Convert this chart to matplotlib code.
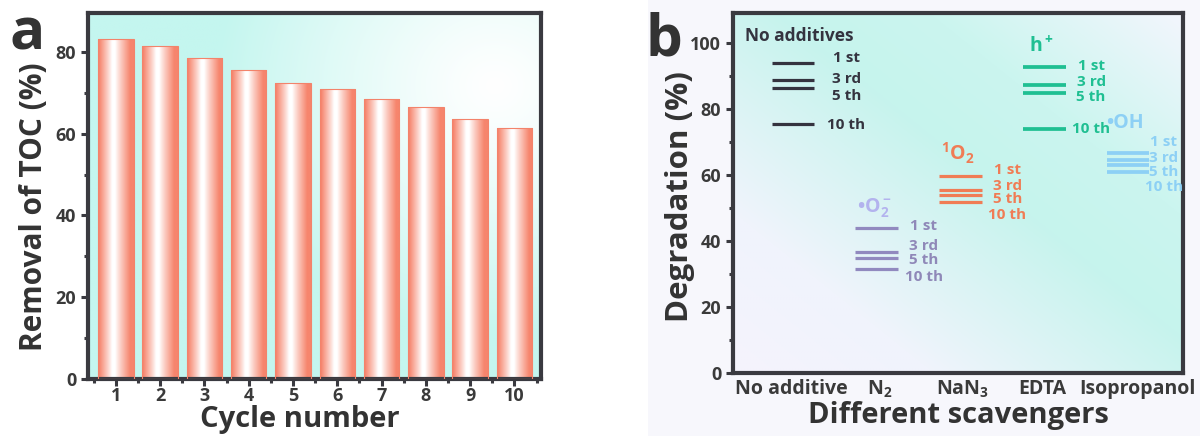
import matplotlib.pyplot as plt
import numpy as np
from matplotlib.colors import LinearSegmentedColormap, to_rgb
from matplotlib.patches import Rectangle

plt.rcParams["font.family"] = ["Open Sans", "DejaVu Sans"]
plt.rcParams["font.weight"] = "bold"
plt.rcParams["mathtext.fontset"] = "custom"
plt.rcParams["mathtext.rm"] = "Open Sans:bold"
plt.rcParams["mathtext.it"] = "Open Sans:bold"
plt.rcParams["mathtext.bf"] = "Open Sans:bold"

# ---- panel a data
cycles = [1, 2, 3, 4, 5, 6, 7, 8, 9, 10]
toc_removal = [83.1, 81.5, 78.5, 75.5, 72.5, 70.8, 68.5, 66.4, 63.5, 61.5]

# ---- panel b data
scavengers = ["No additive", "N$_2$", "NaN$_3$", "EDTA", "Isopropanol"]
species = ["No additives", "•O$_2^-$", "$^1$O$_2$", "h$^+$", "•OH"]
run_labels = ["1 st", "3 rd", "5 th", "10 th"]
deg_no_additive = [93.9, 88.7, 86.3, 75.3]
deg_n2 = [43.8, 36.7, 34.9, 31.6]
deg_nan3 = [59.7, 55.5, 54.0, 51.8]
deg_edta = [92.7, 87.1, 84.7, 74.0]
deg_ipa = [66.7, 64.6, 63.0, 60.8]
degradation = [deg_no_additive, deg_n2, deg_nan3, deg_edta, deg_ipa]

# where the run labels sit (y, in %)
lab_no_additive = [95.3, 89.0, 84.0, 75.2]
lab_n2 = [44.5, 38.4, 34.3, 29.2]
lab_nan3 = [61.5, 56.5, 52.7, 47.9]
lab_edta = [93.0, 88.0, 83.5, 74.0]
lab_ipa = [70.0, 65.2, 60.9, 56.3]
label_y = [lab_no_additive, lab_n2, lab_nan3, lab_edta, lab_ipa]
species_y = [102.0, 50.0, 66.5, 98.8, 75.7]

line_colors = ["#34333f", "#9189bf", "#f07c55", "#1fbf92", "#8dd0f5"]
text_colors = ["#34333f", "#8f88b8", "#f07c55", "#1fbf92", "#8dd0f5"]
species_colors = ["#34333f", "#b3b3ee", "#f07c55", "#1fbf92", "#8dd0f5"]
# small shifts of the category names relative to the line groups
name_shift = [-0.02, 0.03, 0.02, -0.02, 0.11]

SPINE = "#3a3a40"
TICK_TXT = "#3a3a3a"
LABEL_TXT = "#333333"


def style_axes(ax):
    for s in ax.spines.values():
        s.set_linewidth(3)
        s.set_color(SPINE)
    ax.tick_params(which="both", direction="out", color=SPINE, width=2.2,
                   labelcolor=TICK_TXT, labelsize=13)
    ax.tick_params(which="major", length=5)
    ax.tick_params(which="minor", length=3)


fig = plt.figure(figsize=(12, 4.36), dpi=100)
fig.patches.append(Rectangle((0.54, 0), 0.46, 1, transform=fig.transFigure,
                             facecolor="#f7f7fc", edgecolor="none", zorder=-10))

# ================= panel a =================
ax1 = fig.add_axes([0.0733, 0.1307, 0.3775, 0.8395])
ax1.set_xlim(0.37, 10.6)
ax1.set_ylim(0, 89.5)

# background: cyan with a pale spot upper right
gx, gy = np.meshgrid(np.linspace(0, 1, 300), np.linspace(0, 1, 300))
d = np.sqrt((gx - 0.9) ** 2 + ((gy - 0.8) * 0.9) ** 2)
w = np.clip(d / 0.62, 0, 1) ** 1.2
cyan = np.array(to_rgb("#c4f6ef"))
white = np.array([1.0, 1.0, 1.0])
bg = white[None, None, :] * (1 - w[..., None]) + cyan[None, None, :] * w[..., None]
ax1.imshow(bg, extent=[0, 1, 0, 1], transform=ax1.transAxes, origin="lower",
           aspect="auto", zorder=0)

bars = ax1.bar(cycles, toc_removal, width=0.8, color="none",
               edgecolor="#f3836b", linewidth=0.8, zorder=3)
t = np.linspace(0, 1, 120)
wt = np.where(t < 0.39, (0.39 - t) / 0.36, (t - 0.48) / 0.42)
wt = np.clip(wt, 0, 1) ** 0.9
salmon = np.array(to_rgb("#f6856d"))
strip = white[None, :] * (1 - wt[:, None]) + salmon[None, :] * wt[:, None]
strip = strip[None, :, :]
for b in bars:
    x0, y0 = b.get_x(), b.get_y()
    im = ax1.imshow(strip, extent=[x0, x0 + b.get_width(), y0, y0 + b.get_height()],
                    aspect="auto", origin="lower", zorder=2)
    im.set_clip_path(b)

ax1.set_xticks(cycles)
ax1.set_xticks(np.arange(0.5, 11, 1), minor=True)
ax1.set_yticks([0, 20, 40, 60, 80])
ax1.set_yticks([10, 30, 50, 70], minor=True)
style_axes(ax1)
ax1.tick_params(axis="x", pad=1)
ax1.set_ylabel("Removal of TOC (%)", fontsize=21.5, fontweight="bold", color=LABEL_TXT)
ax1.yaxis.set_label_coords(-0.085, 0.47)
ax1.set_xlabel("Cycle number", fontsize=21, fontweight="bold", color=LABEL_TXT,
               va="baseline")
ax1.xaxis.set_label_coords(0.468, -0.132)
fig.text(0.008, (436 - 50) / 436, "a", fontsize=42, fontweight="bold",
         color=LABEL_TXT, va="baseline")

# ================= panel b =================
ax2 = fig.add_axes([0.6108, 0.1445, 0.375, 0.8257])
ax2.set_xlim(-0.716, 4.657)
ax2.set_ylim(0, 109)

tt = (gx + gy) / 2
cmap = LinearSegmentedColormap.from_list(
    "bgb", [(0.0, "#f5f3fd"), (0.22, "#f0f3fc"), (0.55, "#c6f4ed"),
            (0.72, "#cbf5ef"), (1.0, "#f3f6fd")])
ax2.imshow(cmap(tt), extent=[0, 1, 0, 1], transform=ax2.transAxes, origin="lower",
           aspect="auto", zorder=0)

half = 0.255
for i, vals in enumerate(degradation):
    lw = 2.3 if i < 3 else 2.7
    ax2.hlines(vals, i - half, i + half, colors=line_colors[i], linewidth=lw, zorder=3)
    dx = 0.64 if i == 0 else (0.43 if i == 4 else 0.56)
    for lab, ly in zip(run_labels, label_y[i]):
        ax2.text(i + dx, ly, lab, ha="center", va="center", fontsize=11,
                 fontweight="bold", color=text_colors[i], zorder=4)

ax2.text(-0.57, species_y[0], species[0], ha="left", va="center", fontsize=12.5,
         fontweight="bold", color=species_colors[0])
for i in range(1, 5):
    ax2.text(i - 0.03, species_y[i], species[i], ha="center", va="center",
             fontsize=14, fontweight="bold", color=species_colors[i])

ax2.set_xticks([i + s for i, s in enumerate(name_shift)])
ax2.set_xticklabels(scavengers)
ax2.set_yticks([0, 20, 40, 60, 80, 100])
ax2.set_yticks([10, 30, 50, 70, 90], minor=True)
style_axes(ax2)
ax2.tick_params(axis="x", which="both", length=0, labelsize=14, pad=4)
ax2.set_ylabel("Degradation (%)", fontsize=22.5, fontweight="bold", color=LABEL_TXT)
ax2.yaxis.set_label_coords(-0.085, 0.49)
ax2.set_xlabel("Different scavengers", fontsize=21, fontweight="bold", color=LABEL_TXT,
               va="baseline")
ax2.xaxis.set_label_coords(0.5, -0.14)
fig.text(645 / 1200, (436 - 55) / 436, "b", fontsize=42, fontweight="bold",
         color=LABEL_TXT, va="baseline")

fig.savefig("out.png", dpi=100)
